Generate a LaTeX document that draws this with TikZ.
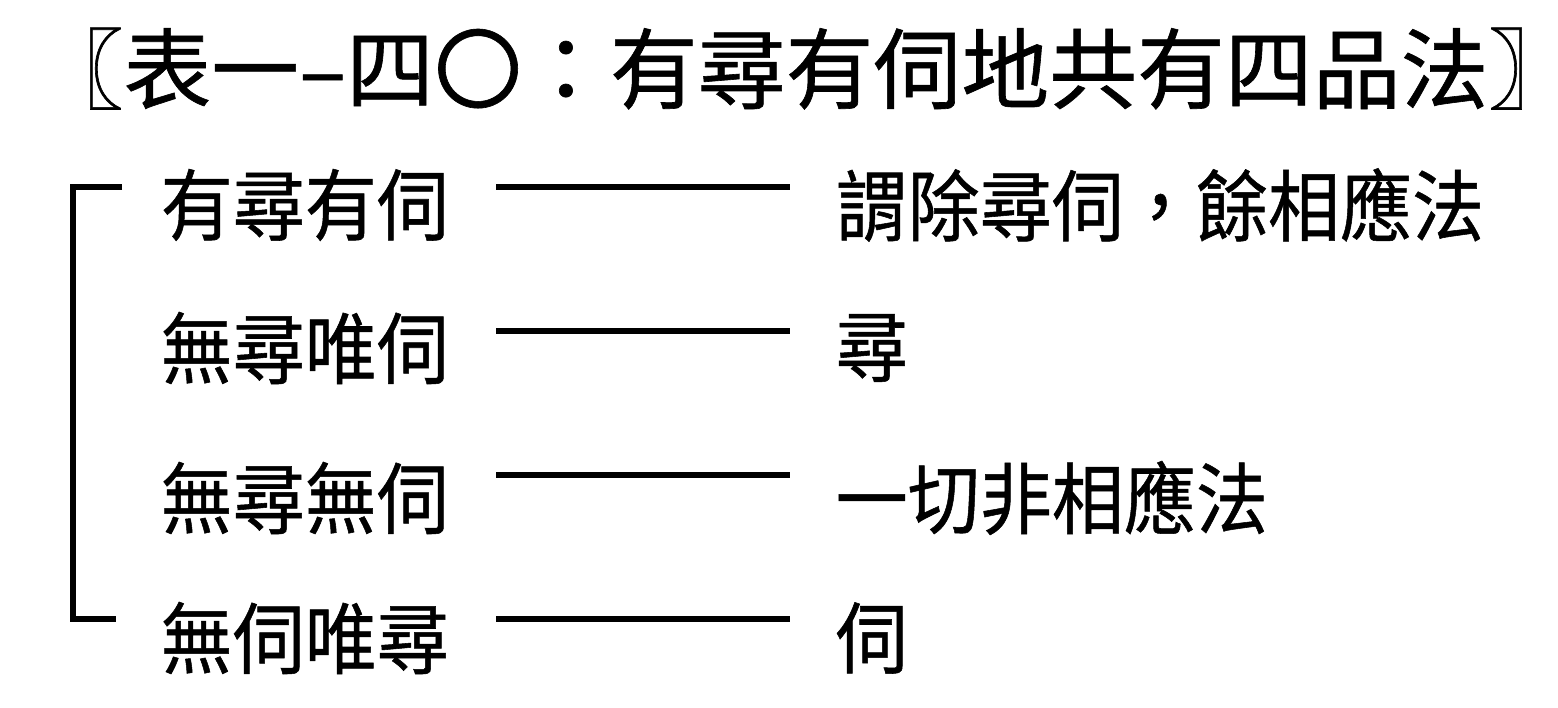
\documentclass[tikz,border=0pt]{standalone}
\usepackage{fontspec}
\usepackage{graphicx}
\setmainfont{Noto Sans CJK TC}[FakeBold=0.7]
\usetikzlibrary{positioning}

\newcommand{\tallcjk}[1]{\scalebox{1}[1.08]{#1}}

\begin{document}
\begin{tikzpicture}[
    rowtext/.style={anchor=west, inner sep=0pt, font=\fontsize{20.5pt}{22pt}\selectfont},
    link/.style={line width=1.8pt},
    brace/.style={line width=1.6pt}
]
    \useasboundingbox (0,0) rectangle (15.58,7.08);

    % 1. TITLE
    \node[inner sep=0pt, anchor=base, font=\fontsize{25pt}{27pt}\selectfont] (title) at (8.06,6.06)
        {〖表一–四〇：有尋有伺地共有四品法〗};

    % 2. THE FOUR ROWS (left term -- line -- what it covers)
    \foreach \i/\ly/\ty/\lhs/\rhs in {
        1/5.21/5.03/有尋有伺/謂除尋伺，餘相應法,
        2/3.77/3.60/無尋唯伺/尋,
        3/2.33/2.10/無尋無伺/一切非相應法,
        4/0.89/0.70/無伺唯尋/伺} {
        \node[rowtext] (l\i) at (1.60,\ty) {\tallcjk{\lhs}};
        \node[rowtext] (r\i) at (8.35,\ty) {\tallcjk{\rhs}};
        \coordinate (s\i) at (4.96,\ly);
        \coordinate (e\i) at (7.90,\ly);
        \draw[link] (s\i) -- (e\i);
    }

    % 3. THE BRACKET ON THE LEFT
    \coordinate (bt) at (1.22,5.21);
    \coordinate (bb) at (1.16,0.89);
    \coordinate (bx) at (0.73,0);
    \draw[brace] (bt) -| (bx |- bb) -- (bb);

\end{tikzpicture}
\end{document}
